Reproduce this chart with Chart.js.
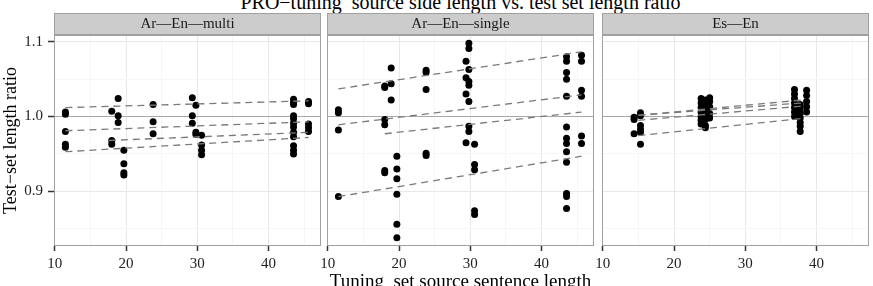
<!DOCTYPE html>
<html>
<head>
<meta charset="utf-8">
<script src="https://cdn.jsdelivr.net/npm/chart.js@4.4.0/dist/chart.umd.min.js"></script>
<style>
  html, body { margin: 0; padding: 0; background: #fff; }
  #wrap { position: relative; width: 873px; height: 286px; overflow: hidden; font-family: 'Liberation Serif', serif; }
  canvas { position: absolute; top: 0; }
  .lbl { position: absolute; left: 0; width: 921px; text-align: center; white-space: pre; color: #000; }
  #title { top: -8px; font-size: 20px; line-height: 20px; }
  #xlab { top: 271px; font-size: 19px; line-height: 19px; }
</style>
</head>
<body>
<div id="wrap">
  <div class="lbl" id="title">PRO−tuning  source side length vs. test set length ratio</div>
  <canvas id="p0" width="321" height="286" style="left:0px"></canvas>
  <canvas id="p1" width="277" height="286" style="left:317px"></canvas>
  <canvas id="p2" width="277" height="286" style="left:592px"></canvas>
  <div class="lbl" id="xlab">Tuning  set source sentence length</div>
</div>
<script>
const panelNames = ['Ar—En—multi', 'Ar—En—single', 'Es—En'];
const xTicks = [10, 20, 30, 40];
const yTicks = [0.9, 1.0, 1.1];

// Ar-En-multi: tuning-set length vs test-set length ratio
const multiX = [11.5, 11.5, 11.5, 11.5, 11.5, 18.0, 18.0, 18.0, 18.9, 18.9, 18.9,
  19.7, 19.7, 19.7, 19.7, 23.8, 23.8, 23.8, 29.3, 29.3, 29.3, 29.8, 29.8, 29.8,
  30.6, 30.6, 30.6, 30.6,
  43.5, 43.5, 43.5, 43.5, 43.5, 43.5, 43.5, 43.5, 43.5, 43.5, 43.5, 43.5,
  45.6, 45.6, 45.6, 45.6, 45.6];
const multiY = [1.006, 1.003, 0.980, 0.963, 0.959, 1.007, 0.968, 0.963, 1.024, 1.001, 0.992,
  0.955, 0.937, 0.925, 0.922, 1.016, 0.993, 0.977, 1.025, 1.001, 0.991, 1.015, 0.979, 0.976,
  0.975, 0.962, 0.955, 0.949,
  1.023, 1.019, 1.016, 1.001, 0.997, 0.991, 0.986, 0.979, 0.973, 0.961, 0.955, 0.950,
  1.020, 1.017, 0.990, 0.985, 0.980];
const multiFitX = [[11.5, 45.6], [11.5, 45.6], [17.6, 45.6], [11.5, 45.6]];
const multiFitY = [[1.012, 1.021], [0.981, 0.993], [0.968, 0.979], [0.953, 0.972]];

// Ar-En-single
const singleX = [11.5, 11.5, 11.5, 11.5, 18.0, 18.0, 18.0, 18.0, 18.0, 18.0, 18.9, 18.9, 18.9,
  19.7, 19.7, 19.7, 19.7, 19.7, 19.7, 23.8, 23.8, 23.8, 23.8, 23.8,
  29.4, 29.4, 29.4, 29.4, 29.8, 29.8, 29.8, 29.8, 29.8, 29.8, 29.8, 29.8,
  30.6, 30.6, 30.6, 30.6, 30.6,
  43.5, 43.5, 43.5, 43.5, 43.5, 43.5, 43.5, 43.5, 43.5, 43.5, 43.5, 43.5, 43.5,
  45.6, 45.6, 45.6, 45.6, 45.6, 45.6];
const singleY = [1.009, 1.005, 0.982, 0.893, 1.041, 1.039, 0.996, 0.989, 0.928, 0.925, 1.065, 1.044, 1.022,
  0.947, 0.930, 0.917, 0.896, 0.856, 0.838, 1.062, 1.059, 1.036, 0.951, 0.948,
  1.074, 1.052, 1.030, 0.965, 1.098, 1.091, 1.063, 1.047, 1.042, 1.020, 0.987, 0.980,
  0.963, 0.936, 0.929, 0.874, 0.869,
  1.080, 1.074, 1.059, 1.050, 1.027, 0.986, 0.971, 0.964, 0.953, 0.939, 0.897, 0.893, 0.877,
  1.082, 1.074, 1.035, 1.027, 0.974, 0.964];
const singleFitX = [[11.5, 45.6], [11.5, 45.6], [18.0, 45.6], [11.5, 45.6]];
const singleFitY = [[1.037, 1.0865], [0.989, 1.029], [0.977, 1.006], [0.893, 0.947]];

// Es-En
const esX = [14.4, 14.4, 14.4, 15.3, 15.3, 15.3, 15.3, 15.3, 15.3,
  23.8, 23.8, 23.8, 23.8, 23.8, 23.8, 23.8, 24.4, 24.4, 24.4, 24.4, 24.4, 24.4, 24.4,
  25.0, 25.0, 25.0, 25.0, 25.0,
  36.9, 36.9, 36.9, 36.9, 36.9, 36.9, 36.9, 37.7, 37.7, 37.7, 37.7, 37.7, 37.7, 37.7,
  38.6, 38.6, 38.6, 38.6, 38.6];
const esY = [0.999, 0.996, 0.977, 1.005, 1.001, 0.988, 0.983, 0.979, 0.963,
  1.024, 1.018, 1.012, 1.006, 1.000, 0.995, 0.990, 1.022, 1.015, 1.008, 1.002, 0.996, 0.988, 0.985,
  1.025, 1.020, 1.013, 1.004, 0.998,
  1.036, 1.030, 1.024, 1.018, 1.012, 1.006, 1.000, 1.016, 1.010, 1.004, 0.998, 0.992, 0.987, 0.980,
  1.035, 1.028, 1.020, 1.013, 1.006];
const esFitX = [[15, 38], [15, 38], [15, 38], [15, 38]];
const esFitY = [[1.0016, 1.0222], [1.0018, 1.0182], [0.995, 1.014], [0.9745, 0.9975]];

const FONT = "'Liberation Serif', serif";
const xMinor = [15, 25, 35, 45];
const yMinor = [0.85, 0.95, 1.05];

// grey strip + panel border, ggplot style
const stripPlugin = {
  id: 'strip',
  afterDraw(chart, args, opts) {
    const { ctx, chartArea: a } = chart;
    const w = a.right - a.left;
    ctx.save();
    ctx.fillStyle = '#CCCCCC';
    ctx.fillRect(a.left, 13, w, 22);
    ctx.strokeStyle = '#A0A0A0';
    ctx.lineWidth = 1;
    ctx.strokeRect(a.left + 0.5, 13.5, w - 1, 21);
    ctx.strokeRect(a.left + 0.5, a.top + 0.5, w - 1, a.bottom - a.top - 1);
    ctx.fillStyle = '#1A1A1A';
    ctx.font = '15px ' + FONT;
    ctx.textAlign = 'center';
    ctx.textBaseline = 'middle';
    ctx.fillText(opts.label, (a.left + a.right) / 2, 24.5);
    ctx.restore();
  }
};

function makePanel(id, idx, xs, ys, fitX, fitY) {
  const first = idx === 0;
  const fits = fitX.map((fx, i) => ({
    type: 'line',
    data: fx.map((x, j) => ({ x: x, y: fitY[i][j] })),
    borderColor: '#7A7A7A',
    borderWidth: 1.3,
    borderDash: [7, 5],
    pointRadius: 0,
    fill: false
  }));
  const pts = {
    type: 'scatter',
    data: xs.map((x, i) => ({ x: x, y: ys[i] })),
    backgroundColor: '#000',
    borderWidth: 0,
    pointRadius: 3.5
  };
  new Chart(document.getElementById(id), {
    type: 'scatter',
    data: { datasets: [...fits, pts] },
    plugins: [stripPlugin],
    options: {
      responsive: false,
      animation: false,
      events: [],
      // panels 2 and 3 leave room on the left so the "10" label is not cut
      layout: { autoPadding: false, padding: { top: 35, left: first ? 0 : 10, right: 0, bottom: 0 } },
      plugins: {
        legend: { display: false },
        tooltip: { enabled: false },
        strip: { label: panelNames[idx] }
      },
      scales: {
        x: {
          type: 'linear',
          min: 9.9,
          max: 47.35,
          afterBuildTicks: s => { s.ticks = [...xTicks, ...xMinor].sort((a, b) => a - b).map(v => ({ value: v })); },
          afterFit: s => { s.height = 40; s.paddingLeft = 0; s.paddingRight = 0; },
          border: { display: false },
          grid: {
            color: c => xTicks.includes(c.tick.value) ? '#E8E8E8' : '#F6F6F6',
            tickColor: c => xTicks.includes(c.tick.value) ? '#333' : 'rgba(0,0,0,0)',
            tickLength: 5,
            tickWidth: 1.5
          },
          ticks: {
            autoSkip: false,
            maxRotation: 0,
            padding: 4,
            color: '#222',
            font: { family: FONT, size: 15 },
            callback: v => xTicks.includes(v) ? String(v) : ''
          }
        },
        y: {
          type: 'linear',
          min: 0.827,
          max: 1.109,
          afterBuildTicks: s => { s.ticks = [...yTicks, ...yMinor].sort((a, b) => a - b).map(v => ({ value: v })); },
          afterFit: s => { s.width = first ? 54 : 0; s.paddingTop = 0; s.paddingBottom = 0; },
          border: { display: false },
          grid: {
            color: c => {
              const v = Math.round(c.tick.value * 100) / 100;
              if (v === 1) return '#A8A8A8';
              return yTicks.includes(v) ? '#E8E8E8' : '#F6F6F6';
            },
            drawTicks: first,
            tickColor: c => yTicks.includes(Math.round(c.tick.value * 100) / 100) ? '#333' : 'rgba(0,0,0,0)',
            tickLength: 6,
            tickWidth: 1.5
          },
          ticks: {
            display: first,
            autoSkip: false,
            padding: 5,
            color: '#222',
            font: { family: FONT, size: 15 },
            callback: v => {
              const r = Math.round(v * 100) / 100;
              return yTicks.includes(r) ? r.toFixed(1) : '';
            }
          },
          title: {
            display: first,
            text: 'Test−set length ratio',
            color: '#000',
            font: { family: FONT, size: 18 },
            padding: { top: 0, bottom: 0 }
          }
        }
      }
    }
  });
}

makePanel('p0', 0, multiX, multiY, multiFitX, multiFitY);
makePanel('p1', 1, singleX, singleY, singleFitX, singleFitY);
makePanel('p2', 2, esX, esY, esFitX, esFitY);
</script>
</body>
</html>
